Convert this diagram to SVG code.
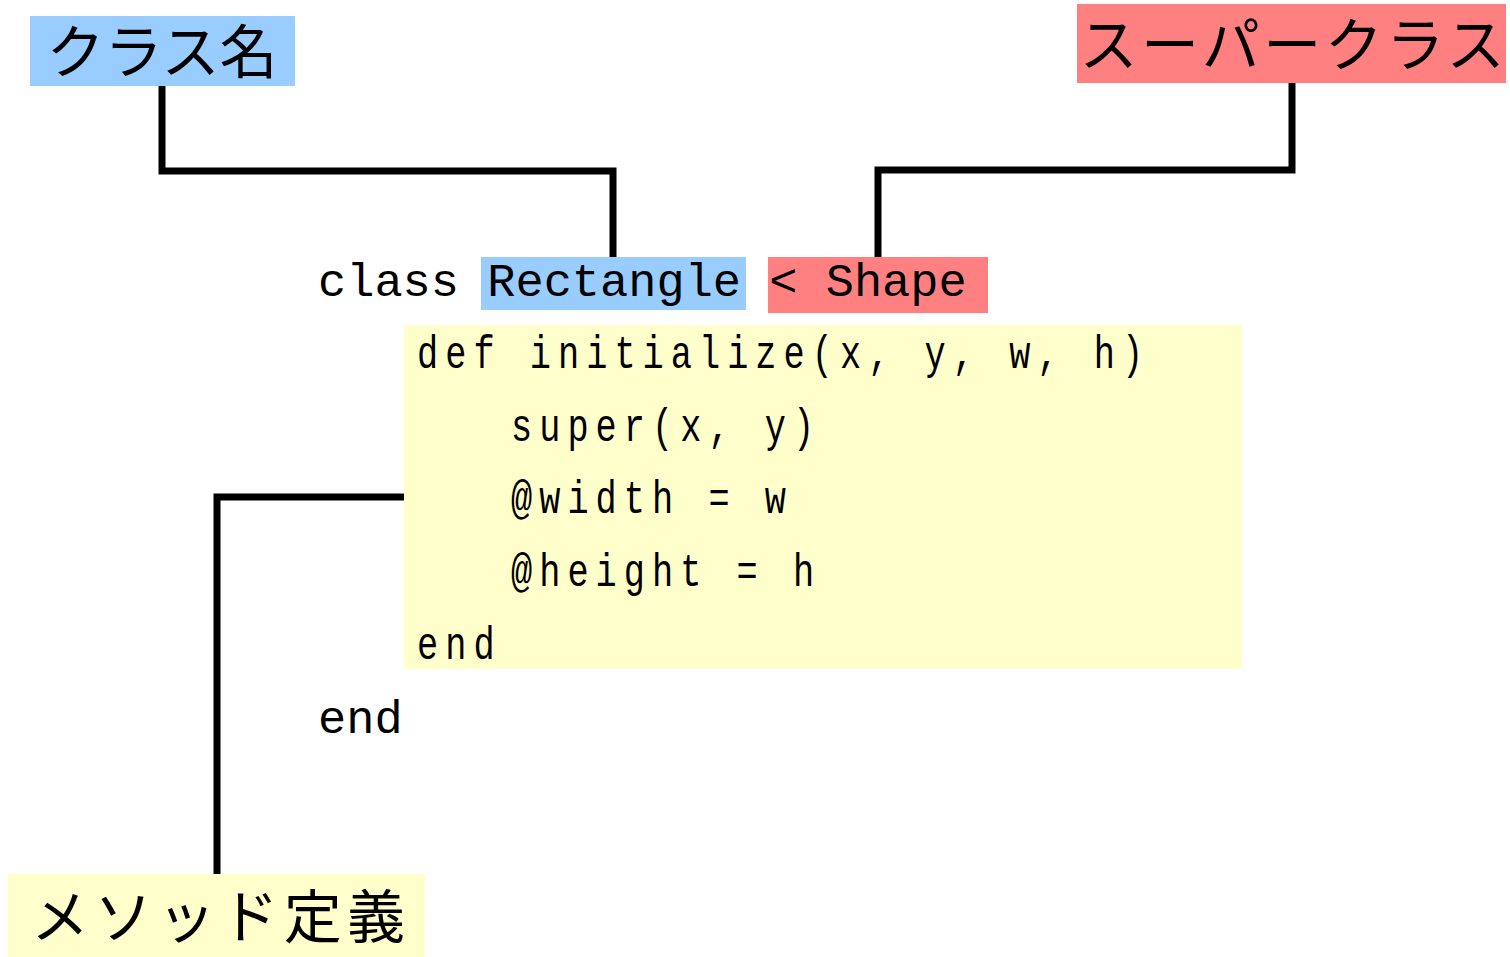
<svg xmlns="http://www.w3.org/2000/svg" width="1510" height="957" viewBox="0 0 1510 957">
<style>
.lbl{font-family:"Noto Sans CJK JP","Noto Sans CJK SC",sans-serif;font-size:58px;fill:#000}
.code{font-family:"Liberation Mono","DejaVu Sans Mono",monospace;font-size:47px;fill:#000}
.cond{font-family:"Liberation Mono","DejaVu Sans Mono",monospace;font-size:47px;fill:#000;letter-spacing:9.4px}
.conn{fill:none;stroke:#000;stroke-width:7;stroke-linejoin:miter}
</style>
<rect width="1510" height="957" fill="#fff"/>
<g id="connectors">
<polyline class="conn" points="162,86 162,171 613,171 613,257"/>
<polyline class="conn" points="1292,83 1292,170 878,170 878,257"/>
<polyline class="conn" points="404,497 217,497 217,874"/>
</g>
<g id="class-name-label">
<rect x="30" y="16" width="265" height="70" fill="#99CCFF"/>
<text class="lbl" x="162" y="73" text-anchor="middle">クラス名</text>
</g>
<g id="superclass-label">
<rect x="1077" y="4" width="429" height="79" fill="#FF8080"/>
<text class="lbl" x="1292" y="66" text-anchor="middle" textLength="425">スーパークラス</text>
</g>
<g id="method-def-label">
<rect x="8" y="874" width="417" height="83" fill="#FFFFCC"/>
<text class="lbl" x="218" y="938" text-anchor="middle" textLength="374">メソッド定義</text>
</g>
<g id="code">
<rect x="481" y="257" width="265" height="53" fill="#99CCFF"/>
<rect x="768" y="257" width="220" height="56" fill="#FF8080"/>
<text class="code" x="318" y="296">class Rectangle &lt; Shape</text>
<rect x="404" y="325" width="838" height="344" fill="#FFFFCC"/>
<g id="method-body">
<text class="cond" transform="translate(417,368) scale(0.75,1)">def initialize(x, y, w, h)</text>
<text class="cond" transform="translate(511,441) scale(0.75,1)">super(x, y)</text>
<text class="cond" transform="translate(511,513) scale(0.75,1)">@width = w</text>
<text class="cond" transform="translate(511,586) scale(0.75,1)">@height = h</text>
<text class="cond" transform="translate(417,659) scale(0.75,1)">end</text>
</g>
<text class="code" x="318" y="733">end</text>
</g>
</svg>
